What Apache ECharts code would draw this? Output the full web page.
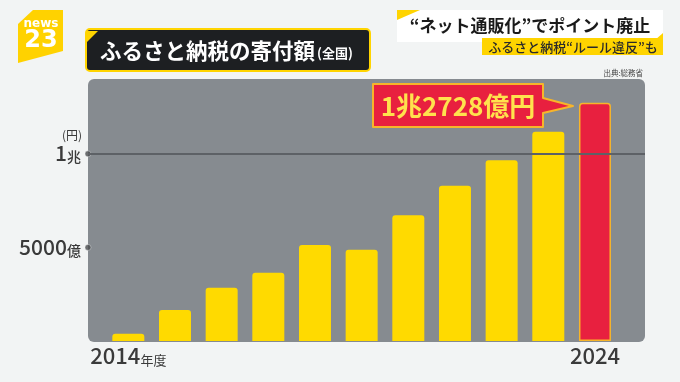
<!DOCTYPE html>
<html>
<head>
<meta charset="utf-8">
<script src="https://cdn.jsdelivr.net/npm/echarts@6/dist/echarts.min.js"></script>
<style>
html,body{margin:0;padding:0;background:#f2f4f4;}
#chart{width:680px;height:382px;}
</style>
</head>
<body>
<div id="chart"></div>
<script>
// ---- data (units: 億円) ----
const years = ['2014','2015','2016','2017','2018','2019','2020','2021','2022','2023','2024'];
const donations = [389, 1653, 2844, 3653, 5127, 4875, 6725, 8302, 9654, 11175, 12728];
const yTicks = [5000, 10000];
const yTickLabels = {5000: ['5000', '億'], 10000: ['1', '兆']};
const refLine = 10000;
const titleText = 'ふるさと納税の寄付額';
const titleSub = '(全国)';
const headline = '“ネット通販化”でポイント廃止';
const subHeadline = 'ふるさと納税“ルール違反”も';
const sourceText = '出典:総務省';
const unitText = '(円)';

const FONT = '"Noto Sans CJK JP", "Noto Sans", sans-serif';
const YELLOW = '#FFDA00';
const RED = '#E8203F';
const ORANGE = '#F7B52A';

function fmtOku(v){
  const cho = Math.floor(v / 10000), oku = v % 10000;
  return (cho ? cho + '兆' : '') + (oku ? oku + '億' : '') + '円';
}

const last = donations.length - 1;
const barData = donations.map((v, i) => i === last
  ? {value: v, itemStyle: {color: RED, borderColor: ORANGE, borderWidth: 1.5, borderRadius: [3,3,0,0]}}
  : {value: v});

const chart = echarts.init(document.getElementById('chart'), null, {renderer: 'canvas'});

const option = {
  backgroundColor: '#f2f4f4',
  animation: false,
  textStyle: {fontFamily: FONT},
  grid: [
    {left: 105, width: 513.3, top: 79, bottom: 41},
    {left: 88, right: 35, top: 79, bottom: 41}
  ],
  xAxis: [
    {
      type: 'category', gridIndex: 0, data: years,
      axisLine: {show: false}, axisTick: {show: false},
      axisLabel: {
        interval: 0, margin: 2,
        formatter: function(v, i){
          if (i === 0) return '{y|' + v + '}{s|年度}';
          if (i === years.length - 1) return '{y|' + v + '}';
          return '';
        },
        rich: {
          y: {fontSize: 22, color: '#3a3a3a', fontFamily: FONT, fontWeight: 500, verticalAlign: 'bottom', lineHeight: 24},
          s: {fontSize: 13, color: '#3a3a3a', fontFamily: FONT, verticalAlign: 'bottom', lineHeight: 21}
        }
      }
    },
    {type: 'value', gridIndex: 1, min: 0, max: 1, show: false}
  ],
  yAxis: [
    {type: 'value', gridIndex: 0, min: 0, max: 14000, interval: 5000, show: false},
    {
      type: 'value', gridIndex: 1, min: 0, max: 14000, interval: 5000,
      axisLine: {show: false}, axisTick: {show: false}, splitLine: {show: false},
      axisLabel: {
        margin: 7,
        formatter: function(v){
          const t = yTickLabels[v];
          if (!t) return '';
          return '{n|' + t[0] + '}{k|' + t[1] + '}';
        },
        rich: {
          n: {fontSize: 21, color: '#3a3a3a', fontFamily: FONT, fontWeight: 500, verticalAlign: 'bottom', lineHeight: 20},
          k: {fontSize: 14, color: '#3a3a3a', fontFamily: FONT, fontWeight: 500, verticalAlign: 'bottom', lineHeight: 18}
        }
      }
    }
  ],
  series: [
    {
      type: 'bar', xAxisIndex: 0, yAxisIndex: 0,
      data: barData, barWidth: 32,
      itemStyle: {color: YELLOW, borderRadius: [3,3,0,0]},
      z: 3
    },
    {
      type: 'scatter', xAxisIndex: 1, yAxisIndex: 1,
      data: yTicks.map(v => [0, v]),
      symbolSize: 6, clip: false,
      itemStyle: {color: '#4a4c4f', borderColor: '#f2f4f4', borderWidth: 0.5},
      z: 4,
      markLine: {
        silent: true, symbol: 'none', label: {show: false},
        lineStyle: {color: '#5d6166', width: 2, type: 'solid'},
        data: [{yAxis: refLine}]
      }
    }
  ],
  graphic: [
    // plot panel
    {type: 'rect', z: 0, shape: {x: 88, y: 79, width: 557, height: 263, r: 6}, style: {fill: '#868b90'}},
    // logo
    {type: 'polygon', z: 10, shape: {points: [[33,10],[63,10],[63,51],[18,63],[18,24]]}, style: {fill: '#FFD200'}},
    {type: 'text', z: 11, style: {text: 'news', x: 41, y: 24, fill: '#fff', font: '600 12px "DejaVu Sans", sans-serif', textAlign: 'center', textVerticalAlign: 'middle'}},
    {type: 'text', z: 11, style: {text: '23', x: 41, y: 41, fill: '#fff', font: 'bold 24px "DejaVu Sans", sans-serif', textAlign: 'center', textVerticalAlign: 'middle'}},
    // title box
    {type: 'rect', z: 10, shape: {x: 86, y: 29, width: 284, height: 42, r: 4}, style: {fill: '#1d1f22', stroke: '#FFD400', lineWidth: 2}},
    {type: 'polygon', z: 11, shape: {points: [[86,31],[98,31],[86,43]]}, style: {fill: '#FFD400'}},
    {type: 'text', z: 12, style: {text: titleText, x: 100, y: 51, fill: '#fff', font: 'bold 21.5px ' + FONT, textVerticalAlign: 'middle'}},
    {type: 'text', z: 12, style: {text: titleSub, x: 317, y: 53, fill: '#fff', font: 'bold 13px ' + FONT, textVerticalAlign: 'middle'}},
    // headline
    {type: 'rect', z: 10, shape: {x: 397, y: 10, width: 266, height: 32}, style: {fill: '#ffffff'}},
    {type: 'polygon', z: 11, shape: {points: [[397,10],[420,10],[397,20]]}, style: {fill: '#FFD400'}},
    {type: 'polygon', z: 11, shape: {points: [[663,33],[663,40],[655,40]]}, style: {fill: '#FFD400'}},
    {type: 'text', z: 12, style: {text: headline, x: 530, y: 26, fill: '#1a1a1a', font: 'bold 17px ' + FONT, textAlign: 'center', textVerticalAlign: 'middle'}},
    {type: 'rect', z: 10, shape: {x: 482, y: 38, width: 181, height: 17}, style: {fill: '#FFD400'}},
    {type: 'text', z: 12, style: {text: subHeadline, x: 573, y: 47, fill: '#2a2a2a', font: '500 13px ' + FONT, textAlign: 'center', textVerticalAlign: 'middle'}},
    {type: 'text', z: 12, style: {text: sourceText, x: 643, y: 73, fill: '#444', font: '7.5px ' + FONT, textAlign: 'right', textVerticalAlign: 'middle'}},
    // unit
    {type: 'text', z: 12, style: {text: unitText, x: 82, y: 135, fill: '#3a3a3a', font: '12px ' + FONT, textAlign: 'right', textVerticalAlign: 'middle'}},
    // callout
    {type: 'polygon', z: 20, shape: {points: [[373,84],[543,84],[543,98],[573,106],[543,113],[543,127],[373,127]]}, style: {fill: RED, stroke: ORANGE, lineWidth: 2, lineJoin: 'round'}},
    {type: 'text', z: 21, style: {text: fmtOku(donations[last]), x: 458, y: 106, fill: '#FFE24D', font: 'bold 26px ' + FONT, textAlign: 'center', textVerticalAlign: 'middle'}}
  ]
};
chart.setOption(option);
</script>
</body>
</html>
